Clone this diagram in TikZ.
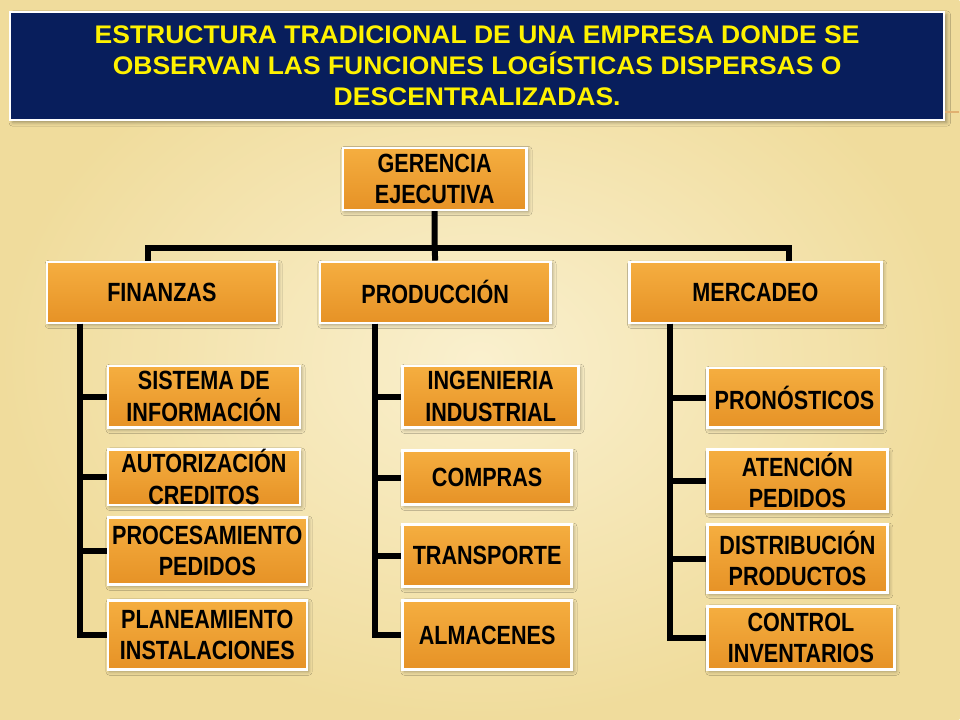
\documentclass[tikz,border=0pt]{standalone}
\usepackage{fontspec}
\setmainfont{Liberation Sans}
\newfontfamily\titlefont[FakeStretch=1.04]{Liberation Sans}
\newfontfamily\boxfont[FakeStretch=0.82]{Liberation Sans}
\usepackage{xcolor}
\definecolor{navytitle}{RGB}{8,30,92}
\definecolor{orgtop}{RGB}{245,174,64}
\definecolor{orgbot}{RGB}{230,146,38}
\definecolor{bglight}{RGB}{250,240,206}
\definecolor{bgdark}{RGB}{240,220,156}
\definecolor{tanline}{RGB}{224,176,112}
\usepackage{tikz}
\usetikzlibrary{positioning,shadows.blur,shadings}
\tikzstyle{titlebox} = [draw=white, line width=1.4pt, fill=navytitle, text=yellow,
    rectangle, inner sep=0pt, align=center, minimum width=18.7cm, minimum height=2.16cm,
    font=\titlefont\bfseries\fontsize{14.5}{17.6}\selectfont,
    blur shadow={shadow xshift=1.5pt, shadow yshift=-1.5pt, shadow opacity=35}]
\tikzstyle{orgbox} = [draw=white, line width=1.4pt, top color=orgtop, bottom color=orgbot,
    rectangle, inner sep=0pt, align=center, text=black,
    font=\boxfont\bfseries\fontsize{15}{18}\selectfont,
    blur shadow={shadow xshift=1pt, shadow yshift=-1.2pt, shadow opacity=35}]
\tikzstyle{conn} = [line width=3.4pt, black, line join=miter]

\begin{document}
\begin{tikzpicture}[x=0.02cm, y=-0.02cm]
\shade[inner color=bglight, outer color=bgdark] (0,0) rectangle (960,720);
\node[titlebox] (title) at (477.5,66) {ESTRUCTURA TRADICIONAL DE UNA EMPRESA DONDE SE\\
    OBSERVAN LAS FUNCIONES LOG\'ISTICAS DISPERSAS O\\ DESCENTRALIZADAS.};
\coordinate (tanend) at (960,112);
\draw[tanline, line width=0.8pt] (title.east |- tanend) -- (tanend);

% nivel 0 y 1
\node[orgbox, minimum width=3.68cm, minimum height=1.24cm] (ger) at (435,179) {GERENCIA\\EJECUTIVA};
\node[orgbox, minimum width=4.6cm, minimum height=1.22cm] (fin) at (162,292.5) {FINANZAS};
\node[orgbox, minimum width=4.62cm, minimum height=1.22cm] (prod) at (435.5,292.5) {PRODUCCI\'ON};
\node[orgbox, minimum width=5.04cm, minimum height=1.22cm] (mer) at (756,292.5) {MERCADEO};

% finanzas
\node[orgbox, minimum width=3.84cm, minimum height=1.24cm] (sisinfo) at (204,397) {SISTEMA DE\\INFORMACI\'ON};
\node[orgbox, minimum width=3.84cm, minimum height=1.1cm] (autcred) at (204,477.5) {AUTORIZACI\'ON\\CREDITOS};
\node[orgbox, minimum width=3.98cm, minimum height=1.34cm] (procped) at (207.5,551.5) {PROCESAMIENTO\\PEDIDOS};
\node[orgbox, minimum width=3.98cm, minimum height=1.38cm] (planinst) at (207.5,635.5) {PLANEAMIENTO\\INSTALACIONES};

% produccion
\node[orgbox, minimum width=3.52cm, minimum height=1.24cm] (ingind) at (491,397) {INGENIERIA\\INDUSTRIAL};
\node[orgbox, minimum width=3.38cm, minimum height=1.08cm] (compras) at (487.5,478) {COMPRAS};
\node[orgbox, minimum width=3.38cm, minimum height=1.24cm] (transp) at (487.5,556) {TRANSPORTE};
\node[orgbox, minimum width=3.38cm, minimum height=1.38cm] (almac) at (487.5,635.5) {ALMACENES};

% mercadeo
\node[orgbox, minimum width=3.48cm, minimum height=1.2cm] (pronos) at (795,398) {PRON\'OSTICOS};
\node[orgbox, minimum width=3.6cm, minimum height=1.24cm] (atenped) at (798,481) {ATENCI\'ON\\PEDIDOS};
\node[orgbox, minimum width=3.6cm, minimum height=1.36cm] (distprod) at (798,559) {DISTRIBUCI\'ON\\PRODUCTOS};
\node[orgbox, minimum width=3.74cm, minimum height=1.26cm] (ctrlinv) at (801.5,638.5) {CONTROL\\INVENTARIOS};

% conectores
\coordinate (barl) at (148,248);
\coordinate (barr) at (790,248);
\draw[conn] (ger.south) -- (ger.south |- barl) -- (prod.north);
\draw[conn] (barl |- fin.north) -- (barl) -- (barr) -- (barr |- mer.north);
\coordinate (finx) at (80,0);
\coordinate (prodx) at (375,0);
\coordinate (merx) at (670,0);
\foreach \n in {sisinfo,autcred,procped,planinst}
  \draw[conn] (finx |- fin.south) |- (\n.west);
\foreach \n in {ingind,compras,transp,almac}
  \draw[conn] (prodx |- prod.south) |- (\n.west);
\foreach \n in {pronos,atenped,distprod,ctrlinv}
  \draw[conn] (merx |- mer.south) |- (\n.west);
\end{tikzpicture}
\end{document}
